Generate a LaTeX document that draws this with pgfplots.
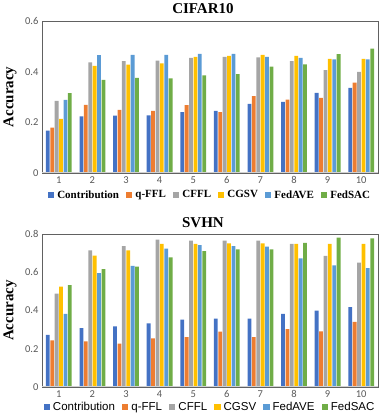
\documentclass[border=0pt]{standalone}
\usepackage{fontspec}
\setmainfont{Liberation Serif}
\newfontfamily\carlito{Carlito}
\newfontfamily\arialf{Liberation Sans}
\usepackage{pgfplots}
\usepackage{pgfplotstable}
\pgfplotsset{compat=1.18}
\definecolor{c1}{HTML}{4472C4}
\definecolor{c2}{HTML}{ED7D31}
\definecolor{c3}{HTML}{A5A5A5}
\definecolor{c4}{HTML}{FFC000}
\definecolor{c5}{HTML}{5B9BD5}
\definecolor{c6}{HTML}{70AD47}
\definecolor{tickgray}{HTML}{595959}

\pgfplotstableread{
g con qffl cffl cgsv fedave fedsac
1 0.167 0.179 0.285 0.214 0.289 0.315
2 0.224 0.269 0.437 0.423 0.465 0.368
3 0.226 0.249 0.442 0.428 0.466 0.375
4 0.227 0.245 0.444 0.433 0.466 0.374
5 0.240 0.268 0.454 0.458 0.470 0.385
6 0.245 0.240 0.458 0.462 0.470 0.390
7 0.273 0.303 0.456 0.466 0.458 0.420
8 0.281 0.290 0.442 0.462 0.454 0.429
9 0.316 0.297 0.406 0.450 0.449 0.469
10 0.336 0.357 0.399 0.450 0.449 0.491
}\cifar

\pgfplotstableread{
g con qffl cffl cgsv fedave fedsac
1 0.272 0.244 0.488 0.525 0.382 0.533
2 0.308 0.239 0.715 0.687 0.596 0.617
3 0.317 0.227 0.737 0.715 0.634 0.629
4 0.333 0.254 0.770 0.748 0.723 0.678
5 0.352 0.261 0.765 0.749 0.742 0.711
6 0.357 0.289 0.765 0.751 0.736 0.720
7 0.357 0.261 0.765 0.751 0.734 0.720
8 0.382 0.303 0.749 0.749 0.673 0.753
9 0.399 0.291 0.685 0.749 0.636 0.781
10 0.418 0.340 0.650 0.749 0.622 0.777
}\svhn

\pgfplotsset{
  mybars/.style={
    ybar=0.6pt, bar width=3.8pt,
    scale only axis, width=336pt,
    xmin=0.5, xmax=10.5, xtick={1,...,10},
    ymin=0, major tick length=0pt,
    axis line style={draw=black!62, line width=0.9pt},
    tick label style={font=\carlito\fontsize{10.5}{12}\selectfont, text=tickgray},
    /pgf/number format/assume math mode=true,
    yticklabel style={/pgf/number format/fixed, /pgf/number format/precision=1},
    ylabel={Accuracy},
    every axis y label/.style={at={(axis description cs:-0.095,0.5)}, rotate=90, anchor=center, font=\bfseries\fontsize{15}{15}\selectfont},
    every axis title/.style={anchor=center, font=\bfseries\fontsize{15}{15}\selectfont},
    legend columns=6,
    legend image code/.code={\fill[##1] (0pt,-3.2pt) rectangle (6.4pt,3.2pt);},
    legend style={draw=none, fill=none, inner sep=0pt,
      /tikz/every even column/.append style={column sep=5pt},
      /tikz/every odd column/.append style={column sep=1pt}},
  },
  every axis plot/.append style={draw=none},
}

\begin{document}
\begin{tikzpicture}
\begin{axis}[mybars, name=top, at={(42pt,242pt)}, anchor=south west,
  height=152pt, ymax=0.6, ytick={0,0.2,0.4,0.6},
  title={CIFAR10},
  title style={at={(axis description cs:0.479,1.079)}},
  legend style={at={(axis description cs:0.5,-0.145)}, anchor=center, font=\bfseries\fontsize{11}{12}\selectfont},
]
\addplot[fill=c1] table[x=g,y=con]{\cifar};
\addplot[fill=c2] table[x=g,y=qffl]{\cifar};
\addplot[fill=c3] table[x=g,y=cffl]{\cifar};
\addplot[fill=c4] table[x=g,y=cgsv]{\cifar};
\addplot[fill=c5] table[x=g,y=fedave]{\cifar};
\addplot[fill=c6] table[x=g,y=fedsac]{\cifar};
\legend{Contribution,q-FFL,CFFL,CGSV,FedAVE,FedSAC}
\draw[black!18, line width=1pt] (rel axis cs:0,0) -- (rel axis cs:1,0);
\end{axis}

\begin{axis}[mybars, name=bot, at={(42pt,28pt)}, anchor=south west,
  height=153pt, ymax=0.8, ytick={0,0.2,0.4,0.6,0.8},
  title={SVHN},
  title style={at={(axis description cs:0.479,1.072)}},
  legend style={at={(axis description cs:0.5,-0.13)}, anchor=center, font=\arialf\fontsize{11.5}{12}\selectfont},
]
\addplot[fill=c1] table[x=g,y=con]{\svhn};
\addplot[fill=c2] table[x=g,y=qffl]{\svhn};
\addplot[fill=c3] table[x=g,y=cffl]{\svhn};
\addplot[fill=c4] table[x=g,y=cgsv]{\svhn};
\addplot[fill=c5] table[x=g,y=fedave]{\svhn};
\addplot[fill=c6] table[x=g,y=fedsac]{\svhn};
\legend{Contribution,q-FFL,CFFL,CGSV,FedAVE,FedSAC}
\draw[black!18, line width=1pt] (rel axis cs:0,0) -- (rel axis cs:1,0);
\end{axis}
\pgfresetboundingbox
\path[use as bounding box] (0,0) rectangle (382pt,415pt);
\end{tikzpicture}
\end{document}
